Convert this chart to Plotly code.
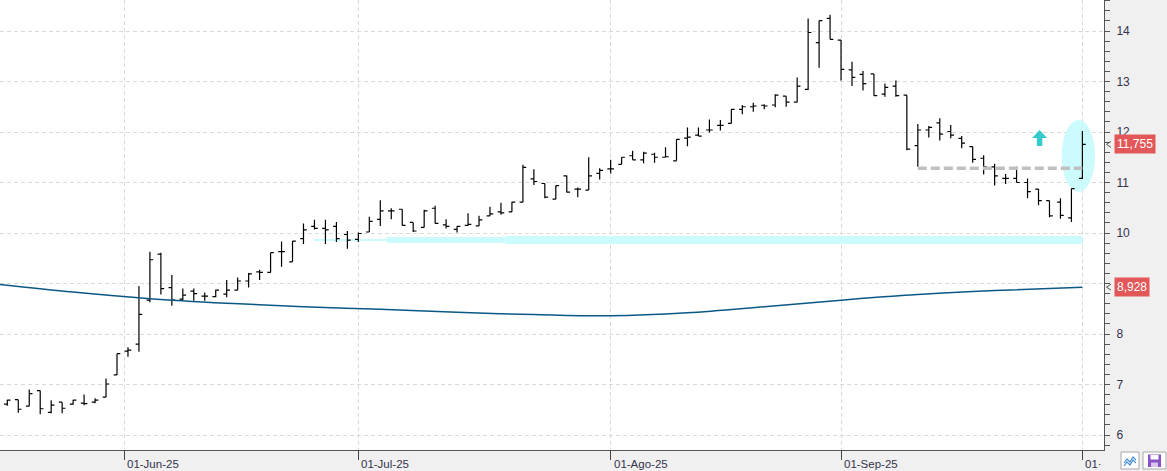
import numpy as np
import pandas as pd
import plotly.graph_objects as go

# ---------------- data ----------------
dates = pd.bdate_range("2025-05-16", "2025-10-01")  # 99 sessions

open_ = [6.61, 6.70, 6.57, 6.88, 6.45, 6.65, 6.61, 6.63, 6.65, 6.75,
         7.19, 7.66, 7.80, 8.67, 9.58, 8.92, 8.69, 8.85, 8.75, 8.74,
         8.79, 8.87, 9.05, 9.23, 9.22, 9.63, 9.43, 9.89, 10.13, 10.09,
         10.13, 9.97, 9.875, 10.02, 10.27, 10.44, 10.47, 10.21, 10.11, 10.49,
         10.16, 10.07, 10.15, 10.14, 10.34, 10.42, 10.42, 10.61, 11.07, 10.98,
         10.67, 11.13, 10.87, 10.85, 11.18, 11.27, 11.36, 11.53, 11.45, 11.56,
         11.50, 11.43, 11.88, 11.94, 12.04, 12.13, 12.17, 12.45, 12.50, 12.53,
         12.535, 12.71, 12.59, 12.845, 13.77, 14.25, 13.82, 13.23, 13.14, 13.15,
         12.75, 12.91, 12.73, 11.73, 12.04, 12.18, 12.01, 11.875, 11.71, 11.48,
         11.31, 11.08, 11.08, 11.00, 10.87, 10.64, 10.61, 10.30, 11.08]
high = [6.70, 6.70, 6.90, 6.88, 6.69, 6.65, 6.70, 6.80, 6.73, 7.12,
        7.61, 7.74, 8.95, 9.63, 9.61, 9.17, 8.90, 8.90, 8.82, 8.88,
        9.07, 9.12, 9.21, 9.27, 9.61, 9.83, 9.84, 10.19, 10.26, 10.26,
        10.22, 10.04, 10.01, 10.32, 10.65, 10.49, 10.47, 10.21, 10.46, 10.54,
        10.27, 10.14, 10.39, 10.34, 10.52, 10.60, 10.62, 11.35, 11.26, 10.98,
        10.94, 11.14, 10.90, 11.50, 11.28, 11.45, 11.50, 11.63, 11.61, 11.59,
        11.70, 11.855, 12.09, 12.09, 12.25, 12.24, 12.45, 12.535, 12.58, 12.55,
        12.75, 12.71, 13.08, 14.25, 14.205, 14.32, 13.82, 13.39, 13.21, 13.15,
        12.96, 13.02, 12.73, 12.16, 12.12, 12.27, 12.14, 11.92, 11.71, 11.54,
        11.37, 11.17, 11.31, 11.08, 10.87, 10.64, 10.69, 10.88, 12.02]
low = [6.58, 6.44, 6.57, 6.41, 6.43, 6.43, 6.60, 6.59, 6.63, 6.75,
       7.19, 7.55, 7.65, 8.63, 8.78, 8.56, 8.66, 8.66, 8.66, 8.73,
       8.73, 8.87, 8.92, 9.07, 9.22, 9.33, 9.43, 9.78, 10.07, 9.78,
       9.82, 9.69, 9.82, 10.02, 10.14, 10.27, 10.15, 10.02, 10.11, 10.19,
       10.09, 10.01, 10.14, 10.14, 10.34, 10.36, 10.42, 10.61, 10.95, 10.69,
       10.67, 10.80, 10.71, 10.85, 11.06, 11.18, 11.36, 11.45, 11.38, 11.39,
       11.50, 11.43, 11.72, 11.92, 11.99, 12.03, 12.17, 12.35, 12.40, 12.45,
       12.49, 12.50, 12.59, 12.83, 13.27, 13.835, 13.02, 12.91, 12.82, 12.72,
       12.70, 12.70, 11.64, 11.31, 11.89, 11.83, 11.875, 11.68, 11.39, 11.16,
       10.94, 10.97, 11.00, 10.69, 10.55, 10.31, 10.28, 10.22, 11.07]
close = [6.69, 6.51, 6.82, 6.52, 6.59, 6.53, 6.69, 6.62, 6.69, 7.01,
         7.61, 7.68, 8.39, 9.47, 8.90, 8.67, 8.77, 8.80, 8.75, 8.87,
         8.87, 9.05, 9.19, 9.22, 9.61, 9.63, 9.84, 10.06, 10.09, 10.06,
         9.89, 9.86, 9.99, 10.23, 10.44, 10.44, 10.15, 10.04, 10.44, 10.19,
         10.13, 10.13, 10.17, 10.26, 10.38, 10.40, 10.61, 11.30, 11.02, 10.71,
         10.94, 10.81, 10.87, 11.13, 11.24, 11.27, 11.50, 11.45, 11.58, 11.50,
         11.51, 11.855, 11.90, 11.92, 12.04, 12.13, 12.45, 12.50, 12.515, 12.515,
         12.73, 12.59, 12.91, 13.97, 14.205, 13.835, 13.24, 13.08, 12.96, 12.72,
         12.885, 12.72, 11.66, 12.04, 12.09, 11.96, 11.94, 11.78, 11.46, 11.31,
         11.13, 11.08, 11.00, 10.82, 10.64, 10.34, 10.35, 10.88, 11.755]

# moving average (sampled at session index; -1 = session before the first shown)
ma_idx = [-1, 6, 13, 20, 27, 34, 41, 48, 55, 62, 69, 76, 83, 90, 98]
ma_val = [8.99, 8.83, 8.70, 8.61, 8.54, 8.49, 8.43, 8.385, 8.36, 8.42,
          8.54, 8.67, 8.78, 8.86, 8.928]

last_close = 11.755
last_ma = 8.928
support_level = 9.861      # cyan band
breakout_level = 11.28     # grey dashed line
price_ticks = [6, 7, 8, 9, 10, 11, 12, 13, 14]
price_labels = ["6", "7", "8", "", "10", "11", "12", "13", "14"]  # "9" hidden behind the MA label
month_ticks = ["2025-06-01", "2025-07-01", "2025-08-01", "2025-09-01", "2025-10-01"]
month_labels = ["01-Jun-25", "01-Jul-25", "01-Ago-25", "01-Sep-25", "01·"]

# ---------------- layout helpers ----------------
W, H = 1167, 471
ML, MR, MT, MB = 0, 63, 0, 21
PW, PH = W - ML - MR, H - MT - MB
XR = [-0.665, 99.97]
YR = [5.703, 14.614]
idx = np.arange(len(dates))
ux = PW / (XR[1] - XR[0])   # px per session
uy = PH / (YR[1] - YR[0])   # px per price unit

d_num = dates.values.astype("datetime64[D]").astype(float)
tick_pos = [float(np.interp(np.datetime64(m, "D").astype(float), d_num, idx)) for m in month_ticks]


def px(X):
    return (X - ML) / PW


def py(Y):
    return (PH - (Y - MT)) / PH


FONT = "Liberation Sans, Arial, sans-serif"
fig = go.Figure()

fig.add_trace(go.Scatter(x=ma_idx, y=ma_val, mode="lines",
                         line=dict(color="#0b5887", width=1.5, shape="spline", smoothing=1.0),
                         hoverinfo="skip"))
fig.add_trace(go.Ohlc(x=idx, open=open_, high=high, low=low, close=close,
                      increasing=dict(line=dict(color="#000000", width=1.2)),
                      decreasing=dict(line=dict(color="#000000", width=1.2)),
                      tickwidth=0.3, text=[d.strftime("%d-%m-%Y") for d in dates]))

shapes = []
band_cyan = "#cbfbfd"
# support band (segments of slightly different thickness)
for xa, xb, hpx in [(27.95, 34.6, 2.2), (34.6, 45.4, 6.0), (45.4, 98.0, 8.0)]:
    shapes.append(dict(type="rect", xref="x", yref="y", x0=xa, x1=xb,
                       y0=support_level - hpx / 2 / uy, y1=support_level + hpx / 2 / uy,
                       fillcolor=band_cyan, line=dict(width=0), layer="between"))
# ellipse around last bar
shapes.append(dict(type="circle", xref="x", yref="y", x0=96.12, x1=99.15, y0=10.818, y1=12.238,
                   fillcolor=band_cyan, line=dict(width=0), layer="between"))
# breakout dashed line
shapes.append(dict(type="line", xref="x", yref="y", x0=83, x1=98, y0=breakout_level, y1=breakout_level,
                   line=dict(color="#c0c0c0", width=3.5, dash="9px,4px"), layer="above"))
# up arrow
shapes.append(dict(type="path", xref="x", yref="y", xsizemode="pixel", ysizemode="pixel",
                   xanchor=94.1, yanchor=11.881,
                   path="M0,8 L7.5,0 L2.7,0 L2.7,-8 L-2.7,-8 L-2.7,0 L-7.5,0 Z",
                   fillcolor="#35cbcc", line=dict(width=0)))
# small pointers at the price labels
for v in [last_close, last_ma]:
    shapes.append(dict(type="path", xref="paper", yref="y", xsizemode="pixel", ysizemode="pixel",
                       xanchor=1.0, yanchor=v, path="M7,3 L2.5,0 L7,-3",
                       line=dict(color="#555555", width=1)))

# bottom-right buttons
shapes.append(dict(type="rect", xref="paper", yref="paper", x0=px(1121), x1=px(1139), y0=py(469), y1=py(452),
                   fillcolor="#ffffff", line=dict(color="#a8a8a8", width=1), layer="above"))
zig1 = [(1124, 463), (1127, 459), (1130, 462), (1133, 457), (1136, 460)]
zig2 = [(1124, 466), (1127, 462), (1130, 465), (1133, 460), (1136, 463)]
for zz in (zig1, zig2):
    p = "M" + " L".join(f"{px(a):.5f},{py(b):.5f}" for a, b in zz)
    shapes.append(dict(type="path", xref="paper", yref="paper", path=p,
                       line=dict(color="#4a8fd8", width=1.2), layer="above"))
shapes.append(dict(type="rect", xref="paper", yref="paper", x0=px(1143), x1=px(1166), y0=py(469), y1=py(452),
                   fillcolor="#ffffff", line=dict(color="#a8a8a8", width=1), layer="above"))
shapes.append(dict(type="rect", xref="paper", yref="paper", x0=px(1148), x1=px(1161), y0=py(467), y1=py(454.5),
                   fillcolor="#8a52c6", line=dict(width=0), layer="above"))
shapes.append(dict(type="rect", xref="paper", yref="paper", x0=px(1150.5), x1=px(1158.5), y0=py(459.5), y1=py(455),
                   fillcolor="#ffffff", line=dict(width=0), layer="above"))
shapes.append(dict(type="rect", xref="paper", yref="paper", x0=px(1151), x1=px(1158), y0=py(467), y1=py(462.5),
                   fillcolor="#d9c6ef", line=dict(width=0), layer="above"))

annotations = []
for v, t in [(last_close, "11,755"), (last_ma, "8,928")]:
    annotations.append(dict(xref="paper", yref="y", x=px(1114), y=v, xanchor="left", yanchor="middle",
                            text=t, showarrow=False, bgcolor="#e25757", borderpad=2,
                            font=dict(family=FONT, size=12, color="#ffffff")))
for tp, lab in zip(tick_pos, month_labels):
    annotations.append(dict(xref="x", yref="paper", x=tp, y=py(463.5), xanchor="left", yanchor="middle",
                            xshift=1, text=lab, showarrow=False,
                            font=dict(family=FONT, size=11.5, color="#33334d")))

fig.update_layout(
    width=W, height=H, margin=dict(l=ML, r=MR, t=MT, b=MB),
    paper_bgcolor="#f0f0f0", plot_bgcolor="#ffffff",
    showlegend=False, shapes=shapes, annotations=annotations,
    xaxis=dict(range=XR, tickvals=tick_pos, ticktext=month_labels, showticklabels=False,
               ticks="outside", ticklen=9, tickcolor="#444444", showline=True, linecolor="#555555",
               linewidth=1, showgrid=True, gridcolor="#dadada", griddash="4px,3px", gridwidth=1,
               zeroline=False, rangeslider=dict(visible=False), fixedrange=True),
    yaxis=dict(range=YR, side="right", tickmode="array", tickvals=price_ticks, ticktext=price_labels,
               ticks="outside", ticklen=5,
               tickcolor="#555555", showline=True, linecolor="#555555", linewidth=1,
               showgrid=True, gridcolor="#dadada", griddash="4px,3px", gridwidth=1, zeroline=False,
               tickfont=dict(family=FONT, size=12, color="#33334d"), ticklabelstandoff=4,
               minor=dict(dtick=0.2, tick0=0, ticks="outside", ticklen=5, tickcolor="#555555",
                          showgrid=False)),
)

fig.write_html("out.html")
